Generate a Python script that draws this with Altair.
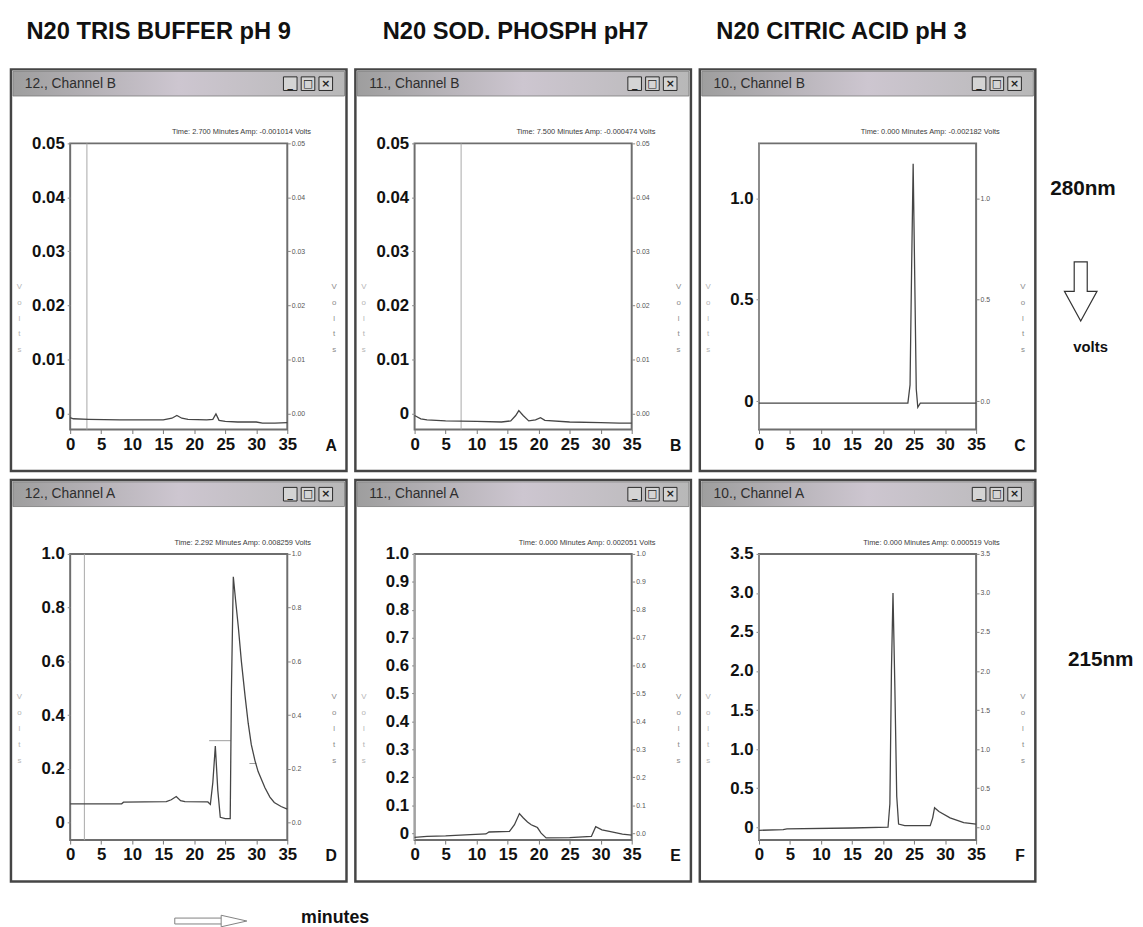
import altair as alt
import pandas as pd

# ------------------------------------------------------------------ data
headers = ["N20 TRIS BUFFER pH 9", "N20 SOD. PHOSPH pH7", "N20 CITRIC ACID pH 3"]
window_titles = ["12., Channel B", "11., Channel B", "10., Channel B",
                 "12., Channel A", "11., Channel A", "10., Channel A"]
panel_letters = ["A", "B", "C", "D", "E", "F"]
cursor_times = [2.700, 7.500, 0.000, 2.292, 0.000, 0.000]
amp_readings = ["-0.001014", "-0.000474", "-0.002182", "0.008259", "0.002051", "0.000519"]
x_ticks = [0, 5, 10, 15, 20, 25, 30, 35]

# A: 280 nm, Tris pH 9
a_t = [0, 0.5, 3, 8, 12, 15, 16.4, 17.2, 18.0, 19.0, 22.0, 23.0, 23.5, 24.0, 25.0, 27.0, 30.0, 31.0, 33.0, 35.0]
a_v = [-0.0008, -0.0010, -0.0011, -0.0012, -0.0012, -0.0012, -0.0009, -0.0004, -0.0009, -0.0011,
       -0.0012, -0.0011, -0.0001, -0.0013, -0.0015, -0.0016, -0.0016, -0.0018, -0.0018, -0.0017]
# B: 280 nm, sodium phosphate pH 7
b_t = [0, 1, 2, 5, 10, 14, 15.5, 16.3, 16.8, 17.5, 18.4, 19.5, 20.3, 21.0, 25.0, 30.0, 33.0, 35.0]
b_v = [-0.0004, -0.0010, -0.0012, -0.0014, -0.0015, -0.0016, -0.0014, -0.0004, 0.0005, -0.0004,
       -0.0014, -0.0012, -0.0008, -0.0013, -0.0016, -0.0017, -0.0018, -0.0018]
# C: 280 nm, citric acid pH 3
c_t = [0, 10, 20, 24.0, 24.35, 24.6, 24.85, 25.1, 25.35, 25.6, 26.0, 30, 35]
c_v = [-0.01, -0.01, -0.01, -0.01, 0.08, 0.65, 1.17, 0.62, 0.06, -0.03, -0.01, -0.01, -0.01]
# D: 215 nm, Tris pH 9
d_t = [0, 8.3, 8.6, 15.5, 16.3, 17.1, 17.8, 18.5, 22.2, 22.6, 23.0, 23.4, 23.8, 24.2, 25.0, 25.8,
       26.0, 26.3, 26.7, 27.1, 27.6, 28.2, 28.7, 29.2, 29.8, 30.3, 31.4, 32.2, 32.9, 34.0, 35.0]
d_v = [0.07, 0.07, 0.076, 0.078, 0.085, 0.097, 0.082, 0.078, 0.077, 0.068, 0.15, 0.285, 0.12, 0.02,
       0.015, 0.015, 0.5, 0.915, 0.82, 0.73, 0.6, 0.47, 0.37, 0.29, 0.23, 0.19, 0.13, 0.095, 0.075, 0.06, 0.05]
d_mark_x1 = [22.4, 28.9]
d_mark_x2 = [25.9, 30.0]
d_mark_y = [0.305, 0.22]
# E: 215 nm, sodium phosphate pH 7
e_t = [0, 2, 5, 9, 11.5, 12, 15.3, 16.1, 16.9, 17.5, 18.2, 18.8, 19.3, 19.8, 20.4, 21.2, 25, 28.5,
       29.2, 30.2, 31.4, 33.5, 35]
e_v = [-0.015, -0.012, -0.010, -0.005, -0.003, 0.004, 0.006, 0.03, 0.07, 0.055, 0.04, 0.03, 0.025,
       0.02, 0.0, -0.017, -0.016, -0.012, 0.023, 0.012, 0.006, -0.004, -0.007]
# F: 215 nm, citric acid pH 3
f_t = [0, 3.9, 4.5, 15, 20.8, 21.1, 21.35, 21.6, 21.9, 22.2, 22.5, 23.5, 27.6, 28.0, 28.3, 29.0, 30.8, 33.0, 35]
f_v = [-0.04, -0.03, -0.02, -0.01, 0.0, 0.3, 2.0, 3.0, 1.8, 0.4, 0.04, 0.02, 0.02, 0.12, 0.25, 0.2, 0.12, 0.06, 0.04]

y_ticks_ab = [0, 0.01, 0.02, 0.03, 0.04, 0.05]
y_ticks_c = [0, 0.5, 1.0]
y_ticks_d = [0, 0.2, 0.4, 0.6, 0.8, 1.0]
y_ticks_e = [0, 0.1, 0.2, 0.3, 0.4, 0.5, 0.6, 0.7, 0.8, 0.9, 1.0]
y_ticks_f = [0, 0.5, 1.0, 1.5, 2.0, 2.5, 3.0, 3.5]

side_labels = ["280nm", "volts", "215nm"]
bottom_label = "minutes"

# ------------------------------------------------------------------ style / geometry
FONT = "Liberation Sans, Arial, Helvetica, sans-serif"
PW, PH = 220, 290          # plot area
LM, RM = 60, 60            # window margins left / right of plot
TB, TG, BM = 27, 48, 42    # title bar, gap bar->plot, bottom margin
X0, X1 = -LM, PW + RM
Y0, Y1 = -(TB + TG), PH + BM
VOLTS = ["V", "o", "l", "t", "s"]

one = pd.DataFrame({"k": [0]})
bar_fill = alt.LinearGradient(
    gradient="linear", x1=0, x2=1, y1=0, y2=0,
    stops=[alt.GradientStop(color="#9e9e9e", offset=0),
           alt.GradientStop(color="#cdc6d0", offset=0.5),
           alt.GradientStop(color="#b8b8b8", offset=1)])


def panel(i, t, v, domain, yticks, fmt, markers=None):
    xscale = alt.Scale(domain=[0, 35], nice=False, zero=False)
    yscale = alt.Scale(domain=domain, nice=False, zero=False)
    xaxis = alt.Axis(values=x_ticks, labelFont=FONT, labelFontSize=17, labelFontWeight="bold",
                     labelColor="#111", labelPadding=3, labelFlush=False, labelOverlap=False,
                     tickSize=4, tickColor="#777", domain=False, grid=False,
                     title=panel_letters[i], titleFont=FONT, titleFontSize=16, titleFontWeight="bold",
                     titleColor="#111", titleX=PW + 44, titleY=16, titleAngle=0,
                     titleAlign="center", titleBaseline="middle")
    left_axis = alt.Axis(orient="left", values=yticks,
                         labelExpr=f"datum.value == 0 ? '0' : format(datum.value, '{fmt}')",
                         labelFont=FONT, labelFontSize=17, labelFontWeight="bold", labelColor="#111",
                         labelPadding=3, labelOverlap=False, tickSize=3, tickColor="#888",
                         domain=False, grid=False,
                         title=VOLTS, titleFont=FONT, titleFontSize=8, titleFontWeight="normal",
                         titleColor="#b5b5b5", titleX=-52, titleY=PH * 0.5, titleAngle=0,
                         titleAlign="center", titleBaseline="middle", titleLineHeight=16)
    right_axis = alt.Axis(orient="right", values=yticks, format=fmt,
                          labelFont=FONT, labelFontSize=7, labelColor="#555", labelPadding=1,
                          labelOverlap=False, tickSize=3, tickColor="#888", domain=False, grid=False,
                          title=VOLTS, titleFont=FONT, titleFontSize=8, titleFontWeight="normal",
                          titleColor="#8a8a8a", titleX=47, titleY=PH * 0.5, titleAngle=0,
                          titleAlign="center", titleBaseline="middle", titleLineHeight=16)

    frame = alt.Chart(one).mark_rect(fillOpacity=0, stroke="#454545", strokeWidth=2.5).encode(
        x=alt.value(X0), x2=alt.value(X1), y=alt.value(Y0), y2=alt.value(Y1))
    bar = alt.Chart(one).mark_rect(fill=bar_fill, stroke="#7a7a7a", strokeWidth=0.8).encode(
        x=alt.value(X0 + 2), x2=alt.value(X1 - 2), y=alt.value(Y0 + 2), y2=alt.value(Y0 + TB))
    ttl = alt.Chart(one).mark_text(align="left", baseline="middle", font=FONT, fontSize=14,
                                   color="#2e2e2e").encode(
        x=alt.value(X0 + 14), y=alt.value(Y0 + TB / 2 + 1), text=alt.value(window_titles[i]))
    layers = [frame, bar, ttl]
    for dx, glyph in zip([-57, -39, -21], ["_", "□", "×"]):
        layers.append(alt.Chart(one).mark_point(shape="square", size=190, filled=True, fill="#d4d4d4",
                                                stroke="#2a2a2a", strokeWidth=1, opacity=1).encode(
            x=alt.value(X1 + dx), y=alt.value(Y0 + TB / 2 + 1)))
        layers.append(alt.Chart(one).mark_text(align="center", baseline="middle", font="DejaVu Sans",
                                               fontSize=11, fontWeight="bold", color="#222").encode(
            x=alt.value(X1 + dx), y=alt.value(Y0 + TB / 2 + 1), text=alt.value(glyph)))
    tm = alt.Chart(one).mark_text(align="right", baseline="middle", font=FONT, fontSize=7.5,
                                  color="#3a3a3a").encode(
        x=alt.value(PW + 24), y=alt.value(-11),
        text=alt.value(f"Time:   {cursor_times[i]:.3f} Minutes    Amp:   {amp_readings[i]} Volts"))
    layers.append(tm)

    cur = alt.Chart(pd.DataFrame({"t": [cursor_times[i]]})).mark_rule(
        color="#a8a8a8", strokeWidth=1).encode(x=alt.X("t:Q", scale=xscale, axis=xaxis))
    layers.append(cur)

    df = pd.DataFrame({"t": t, "v": v})
    if markers is not None:
        mdf = pd.DataFrame({"x1": markers[0], "x2": markers[1], "y": markers[2]})
        layers.append(alt.Chart(mdf).mark_rule(color="#9c9c9c", strokeWidth=1).encode(
            x=alt.X("x1:Q", scale=xscale, axis=xaxis), x2="x2:Q",
            y=alt.Y("y:Q", scale=yscale, axis=None)))
    line = alt.Chart(df).mark_line(color="#454545", strokeWidth=1.3).encode(
        x=alt.X("t:Q", scale=xscale, axis=xaxis), y=alt.Y("v:Q", scale=yscale, axis=left_axis))
    right = alt.Chart(df).mark_line(opacity=0).encode(
        x=alt.X("t:Q", scale=xscale, axis=xaxis), y=alt.Y("v:Q", scale=yscale, axis=right_axis))
    layers += [line, right]

    return alt.layer(*layers).resolve_scale(y="independent").properties(
        width=PW, height=PH,
        view=alt.ViewBackground(fill="white", stroke="#6e6e6e", strokeWidth=2))


pA = panel(0, a_t, a_v, [-0.003, 0.05], y_ticks_ab, ".2f")
pB = panel(1, b_t, b_v, [-0.003, 0.05], y_ticks_ab, ".2f")
pC = panel(2, c_t, c_v, [-0.14, 1.27], y_ticks_c, ".1f")
pD = panel(3, d_t, d_v, [-0.065, 1.0], y_ticks_d, ".1f", markers=(d_mark_x1, d_mark_x2, d_mark_y))
pE = panel(4, e_t, e_v, [-0.025, 1.0], y_ticks_e, ".1f")
pF = panel(5, f_t, f_v, [-0.165, 3.5], y_ticks_f, ".1f")

DX = [18, 30, 19]


def column(c, top, bot):
    return alt.vconcat(top, bot, spacing=3).properties(
        title=alt.TitleParams(headers[c], anchor="start", font=FONT, fontSize=24, fontWeight="bold",
                              color="#111", offset=24, dx=DX[c]))


cols = [column(0, pA, pD), column(1, pB, pE), column(2, pC, pF)]

# right-hand annotations (origin of this view lines up with the top plot areas)
DOWN = "M -0.22 -1 L 0.22 -1 L 0.22 0 L 0.55 0 L 0 1 L -0.55 0 L -0.22 0 Z"
side = alt.layer(
    alt.Chart(one).mark_text(align="left", baseline="middle", font=FONT, fontSize=21,
                             fontWeight="bold", color="#111").encode(
        x=alt.value(8), y=alt.value(46), text=alt.value(side_labels[0])),
    alt.Chart(one).mark_point(shape=DOWN, size=3600, filled=True, fill="white", stroke="#333",
                              strokeWidth=1.2, opacity=1).encode(x=alt.value(39), y=alt.value(150)),
    alt.Chart(one).mark_text(align="center", baseline="middle", font=FONT, fontSize=15,
                             fontWeight="bold", color="#111").encode(
        x=alt.value(49), y=alt.value(206), text=alt.value(side_labels[1])),
    alt.Chart(one).mark_text(align="left", baseline="middle", font=FONT, fontSize=21,
                             fontWeight="bold", color="#111").encode(
        x=alt.value(26), y=alt.value(524), text=alt.value(side_labels[2])),
).properties(width=84, height=560, view=alt.ViewBackground(stroke="transparent"))

# bottom "minutes" arrow (origin of this view lines up with the left plot areas)
HEAD = "M -1 -0.45 L 1 0 L -1 0.45 Z"
CY = 33
bottom = alt.layer(
    alt.Chart(one).mark_rect(fill="white", stroke="#808080", strokeWidth=1).encode(
        x=alt.value(106), x2=alt.value(156), y=alt.value(CY - 3), y2=alt.value(CY + 3)),
    alt.Chart(one).mark_point(shape=HEAD, size=676, filled=True, fill="white", stroke="#808080",
                              strokeWidth=1, opacity=1).encode(x=alt.value(166), y=alt.value(CY)),
    alt.Chart(one).mark_text(align="left", baseline="middle", font=FONT, fontSize=18,
                             fontWeight="bold", color="#111").encode(
        x=alt.value(234), y=alt.value(CY - 3), text=alt.value(bottom_label)),
).properties(width=900, height=38, view=alt.ViewBackground(stroke="transparent"))

chart = alt.vconcat(
    alt.hconcat(*cols, side, spacing=3),
    bottom, spacing=3,
).properties(padding={"left": 0, "top": 5, "right": 0, "bottom": 0}, background="white")

chart.save("out.html", embed_options={"renderer": "svg", "actions": False})
